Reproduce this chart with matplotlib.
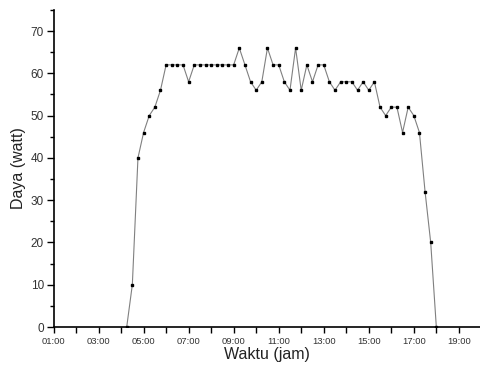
# Daya panel surya vs waktu

import pandas as pd
import matplotlib.pyplot as plt
from matplotlib.ticker import MultipleLocator, FuncFormatter

plt.rcParams['font.family'] = ['Liberation Sans', 'DejaVu Sans']

# Data (tiap 15 menit)
waktu = ["04:15", "04:30", "04:45", "05:00", "05:15", "05:30", "05:45",
         "06:00", "06:15", "06:30", "06:45", "07:00", "07:15", "07:30",
         "07:45", "08:00", "08:15", "08:30", "08:45", "09:00", "09:15",
         "09:30", "09:45", "10:00", "10:15", "10:30", "10:45", "11:00",
         "11:15", "11:30", "11:45", "12:00", "12:15", "12:30", "12:45",
         "13:00", "13:15", "13:30", "13:45", "14:00", "14:15", "14:30",
         "14:45", "15:00", "15:15", "15:30", "15:45", "16:00", "16:15",
         "16:30", "16:45", "17:00", "17:15", "17:30", "17:45", "18:00"]
daya = [0, 10, 40, 46, 50, 52, 56,
        62, 62, 62, 62, 58, 62, 62,
        62, 62, 62, 62, 62, 62, 66,
        62, 58, 56, 58, 66, 62, 62,
        58, 56, 66, 56, 62, 58, 62,
        62, 58, 56, 58, 58, 58, 56,
        58, 56, 58, 52, 50, 52, 52,
        46, 52, 50, 46, 32, 20, 0]

jam = pd.to_timedelta([w + ":00" for w in waktu]).total_seconds() / 3600

fig = plt.figure(figsize=(4.8, 3.7), dpi=100)
ax = fig.add_axes([0.1115, 0.1162, 0.889, 0.857])

ax.plot(jam, daya, color='#808080', linewidth=0.8, marker='s',
        markersize=2.0, markerfacecolor='black', markeredgecolor='black')

ax.set_xlim(1, 19.95)
ax.set_ylim(0, 75)

ax.xaxis.set_major_locator(MultipleLocator(2, offset=1))
ax.xaxis.set_minor_locator(MultipleLocator(1))
ax.xaxis.set_major_formatter(FuncFormatter(lambda v, p: "%02d:00" % int(round(v))))
ax.yaxis.set_major_locator(MultipleLocator(10))
ax.yaxis.set_minor_locator(MultipleLocator(5))

for s in ['top', 'right']:
    ax.spines[s].set_visible(False)
for s in ['left', 'bottom']:
    ax.spines[s].set_linewidth(1.2)

ax.tick_params(axis='x', which='both', length=4, width=1.0, labelsize=6.8,
               labelcolor='#333333', pad=3)
ax.tick_params(axis='y', which='major', length=5, width=1.0, labelsize=8.5,
               labelcolor='#333333', pad=2)
ax.tick_params(axis='y', which='minor', length=3, width=1.0)

ax.set_xlabel('Waktu (jam)', fontsize=11.5, color='#222222', labelpad=1)
ax.set_ylabel('Daya (watt)', fontsize=11.5, color='#222222', labelpad=3)

plt.savefig('out.png', dpi=100)
